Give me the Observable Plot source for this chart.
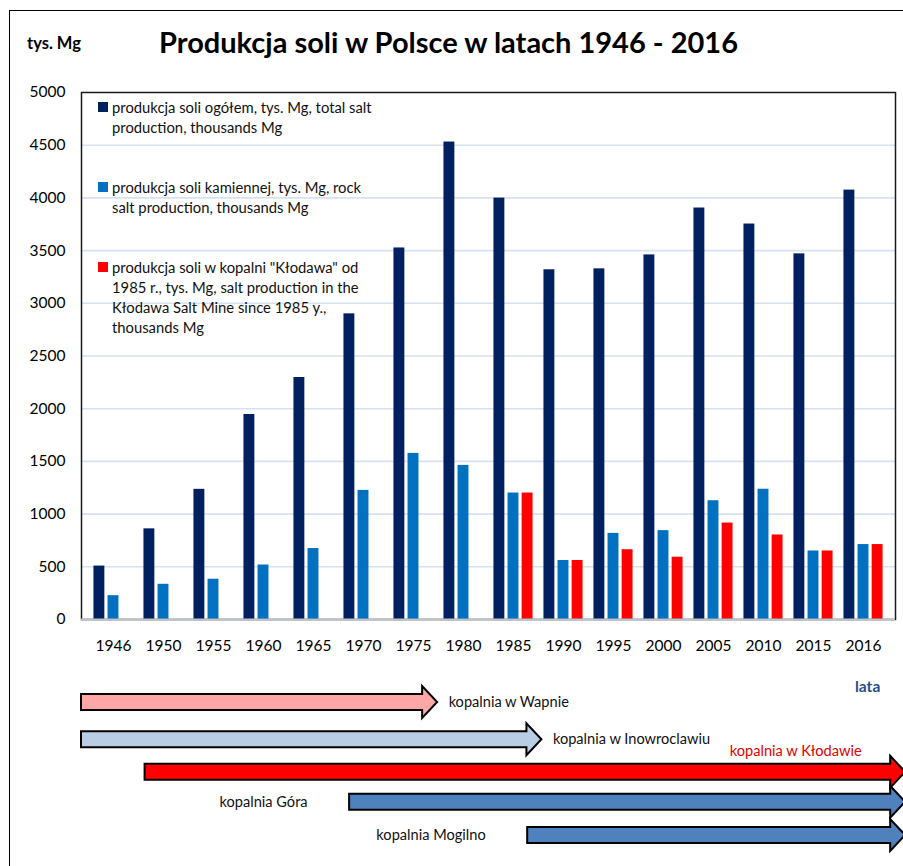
<!DOCTYPE html>
<html>
<head>
<meta charset="utf-8">
<script src="https://cdn.jsdelivr.net/npm/d3@7"></script>
<script src="https://cdn.jsdelivr.net/npm/@observablehq/plot@0.6"></script>
<style>
  html, body { margin: 0; padding: 0; background: #fff; overflow: hidden; }
  #page { position: relative; width: 903px; height: 866px; font-family: Lato, "Open Sans", sans-serif; color: #000; }
  #outer { position: absolute; left: 9px; top: 10px; width: 900px; height: 860px; border-left: 1.5px solid #000; border-top: 1.5px solid #000; }
  #unit { position: absolute; left: 27px; top: 33px; font-weight: bold; font-size: 16.5px; }
  #title { position: absolute; left: 0; width: 897px; top: 24px; text-align: center; font-weight: bold; font-size: 29px; }
  #chart { position: absolute; left: 0; top: 80px; }
  #arrows { position: absolute; left: 0; top: 660px; }
  #lata { position: absolute; left: 855px; top: 677px; font-weight: bold; font-size: 15.5px; color: #1f4e8c; }
  .leg { position: absolute; left: 112px; font-size: 14.8px; line-height: 20px; white-space: nowrap; color: #111; }
  .sw { position: absolute; left: 98px; width: 10px; height: 10px; }
</style>
</head>
<body>
<div id="page">
  <div id="outer"></div>
  <div id="unit">tys. Mg</div>
  <div id="title">Produkcja soli w Polsce w latach 1946 - 2016</div>
  <div id="chart"></div>
  <div id="legend"></div>
  <div id="arrows"></div>
  <div id="lata">lata</div>
</div>
<script>
// ---- data: salt production (thousand Mg) ----
const years = ["1946","1950","1955","1960","1965","1970","1975","1980","1985","1990","1995","2000","2005","2010","2015","2016"];
const total = [507, 860, 1235, 1945, 2296, 2900, 3525, 4530, 3998, 3318, 3327, 3459, 3904, 3752, 3469, 4074];
const rock = [226, 334, 382, 517, 673, 1225, 1576, 1462, 1200, 560, 817, 843, 1127, 1236, 650, 711];
const klodawa = [null, null, null, null, null, null, null, null, 1200, 560, 662, 591, 915, 802, 650, 711];

const seriesNames = [
  "produkcja soli ogółem, tys. Mg, total salt|production, thousands Mg",
  "produkcja soli kamiennej, tys. Mg, rock|salt production, thousands Mg",
  "produkcja soli w kopalni \"Kłodawa\" od|1985 r., tys. Mg, salt production in the|Kłodawa Salt Mine since 1985 y.,|thousands Mg"
];
const seriesColors = ["#002060", "#0070c0", "#ff0000"];

// ---- data: mines (positions in category-index units along the year axis) ----
const mines = ["kopalnia w Wapnie", "kopalnia w Inowroclawiu", "kopalnia w Kłodawie", "kopalnia Góra", "kopalnia Mogilno"];
const mineStart = [0, 0, 1.25, 5.27, 8.77];
const mineEnd = [7.0, 9.05, 16.2, 16.2, 16.2];
const mineRow = [0, 1.12, 2.1, 3.0, 4.0];
const mineColors = ["#ffa6a6", "#b9cde5", "#ff0000", "#4f81bd", "#4f81bd"];
const mineLabelSide = ["after", "after", "above", "before", "before"];

// ---- build table ----
const seriesValues = [total, rock, klodawa];
const rows = [];
seriesValues.forEach((vals, s) => {
  years.forEach((y, i) => { if (vals[i] != null) rows.push({year: y, s, value: vals[i]}); });
});

const W = 903, ML = 81, MR = 8;
const step = (W - ML - MR) / (years.length - 0.2 + 0.2);
const band = step * 0.8;
const barW = 11.6, barStep = 14.1;
const off = (band - (2 * barStep + barW)) / 2;

const barMarks = [0, 1, 2].map(s => Plot.barY(rows.filter(d => d.s === s), {
  x: "year", y: "value", fill: seriesColors[s],
  insetLeft: off + s * barStep,
  insetRight: band - (off + s * barStep + barW)
}));

const chart = Plot.plot({
  width: W, height: 580,
  marginLeft: ML, marginRight: MR, marginTop: 12, marginBottom: 41,
  style: {fontFamily: "Lato, 'Open Sans', sans-serif", fontSize: "15.5px", color: "#000", background: "transparent"},
  x: {domain: years, paddingInner: 0.2, paddingOuter: 0.1, tickSize: 0, tickPadding: 20, label: null},
  y: {domain: [0, 5000], ticks: 10, tickFormat: d => String(d), tickSize: 0, tickPadding: 16, label: null},
  marks: [
    Plot.ruleY(d3.range(500, 5000, 500), {stroke: "#d6e1f2", strokeWidth: 1.6}),
    ...barMarks,
    Plot.frame({stroke: "#1a1a1a", strokeWidth: 1.5}),
    Plot.ruleY([0], {stroke: "#bfc4cc", strokeWidth: 2})
  ]
});
document.getElementById("chart").appendChild(chart);

// ---- legend ----
const legTops = [97, 177, 257];
const legend = document.getElementById("legend");
seriesNames.forEach((name, i) => {
  const sw = document.createElement("div");
  sw.className = "sw";
  sw.style.top = (legTops[i] + 5) + "px";
  sw.style.background = seriesColors[i];
  legend.appendChild(sw);
  const t = document.createElement("div");
  t.className = "leg";
  t.style.top = legTops[i] + "px";
  t.innerHTML = name.split("|").join("<br>");
  legend.appendChild(t);
});

// ---- mine arrows ----
const mineData = mines.map((m, i) => ({name: m, start: mineStart[i], end: mineEnd[i], row: mineRow[i], color: mineColors[i], side: mineLabelSide[i]}));

function arrowMark(index, scales, values, dimensions) {
  const sx = scales.x || d3.scaleLinear([0, 16], [dimensions.marginLeft, dimensions.width - dimensions.marginRight]);
  const sy = scales.y || d3.scaleLinear([0, 4], [dimensions.marginTop, dimensions.height - dimensions.marginBottom]);
  const g = d3.create("svg:g");
  const sh = 8, hh = 16, hl = 15;
  mineData.forEach(d => {
    const x0 = sx(d.start), xt = sx(d.end), yc = sy(d.row);
    const p = [[x0, yc - sh], [xt - hl, yc - sh], [xt - hl, yc - hh], [xt, yc], [xt - hl, yc + hh], [xt - hl, yc + sh], [x0, yc + sh]];
    g.append("path")
      .attr("d", "M" + p.map(q => q.join(",")).join("L") + "Z")
      .attr("fill", d.color).attr("stroke", "#000").attr("stroke-width", 2).attr("stroke-linejoin", "miter");
  });
  return g.node();
}

const arrows = Plot.plot({
  width: W, height: 206,
  marginLeft: ML, marginRight: MR, marginTop: 42, marginBottom: 31,
  style: {fontFamily: "Lato, 'Open Sans', sans-serif", fontSize: "14.6px", color: "#111", background: "transparent", overflow: "visible"},
  x: {domain: [0, 16], axis: null},
  y: {domain: [0, 4], range: [42, 175], axis: null},
  marks: [
    arrowMark,
    Plot.text(mineData.filter(d => d.side === "after"), {x: "end", y: "row", text: "name", textAnchor: "start", dx: 11, fill: "#111"}),
    Plot.text(mineData.filter(d => d.side === "before"), {x: "start", y: "row", text: "name", textAnchor: "end", dx: -42, fill: "#111"}),
    Plot.text(mineData.filter(d => d.side === "above"), {x: "end", y: "row", text: "name", textAnchor: "end", dx: -44, dy: -21, fill: "#e00000"})
  ]
});
document.getElementById("arrows").appendChild(arrows);
</script>
</body>
</html>
